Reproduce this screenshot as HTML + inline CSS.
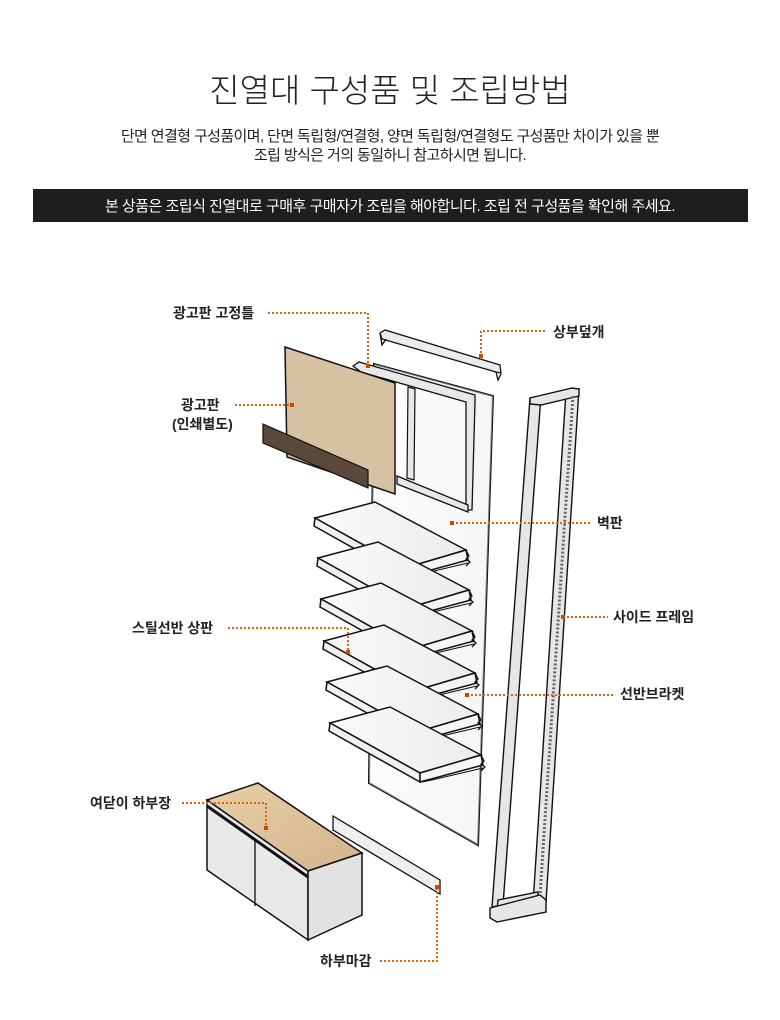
<!DOCTYPE html>
<html><head><meta charset="utf-8"><style>
html,body{margin:0;padding:0;background:#fff;}
body{width:780px;height:1020px;position:relative;overflow:hidden;font-family:"Liberation Sans","Noto Sans CJK KR",sans-serif;color:#222;}
.t{position:absolute;left:0;width:780px;text-align:center;white-space:nowrap;}
svg{position:absolute;left:0;top:0;}
</style></head><body>
<div class="t" style="top:64px;font-size:33px;font-weight:300;color:#222;">진열대 구성품 및 조립방법</div>
<div class="t" style="top:127px;font-size:15px;line-height:19px;color:#222;letter-spacing:-0.6px;">단면 연결형 구성품이며, 단면 독립형/연결형, 양면 독립형/연결형도 구성품만 차이가 있을 뿐<br>조립 방식은 거의 동일하니 참고하시면 됩니다.</div>
<div style="position:absolute;left:33px;top:189px;width:715px;height:33px;background:#1e1e1e;"></div>
<div class="t" style="top:195px;font-size:15px;color:#fff;letter-spacing:-0.5px;">본 상품은 조립식 진열대로 구매후 구매자가 조립을 해야합니다. 조립 전 구성품을 확인해 주세요.</div>

<svg width="780" height="1020" viewBox="0 0 780 1020">
<defs>
<linearGradient id="sh" x1="0" y1="0" x2="1" y2="0"><stop offset="0" stop-color="#fafafa"/><stop offset="1" stop-color="#ececec"/></linearGradient>
<linearGradient id="wd" x1="0" y1="0" x2="1" y2="1"><stop offset="0" stop-color="#e8cfa6"/><stop offset="1" stop-color="#d2b48c"/></linearGradient>
<g id="shelf">
<polygon points="315,518 375,502 466,550 405,568" fill="url(#sh)" stroke="#111" stroke-width="1.5"/>
<polygon points="315,518 405,568 405,577 314,526" fill="#f0f0f0" stroke="#111" stroke-width="1.5"/>
<polygon points="405,568 466,550 468,560 405,577" fill="#f5f5f5" stroke="#111" stroke-width="1.5"/>
<path d="M466,550 l3,6 -3,3 4,3 -4,4" fill="none" stroke="#111" stroke-width="1.3"/>
<path d="M407,577 l10,-2 51,-12" fill="none" stroke="#111" stroke-width="1"/>
</g>
</defs>
<!-- wall panel -->
<polygon points="374,364 493,396 478,845 369,783" fill="#fff" stroke="#111" stroke-width="2"/>
<polygon points="374,364 493,396 478,845 369,783" fill="url(#sh)" opacity="0.5"/>
<!-- frame -->
<polygon points="353,366 359,362 475,395 475,402 472,510 466,510 466,402 361,372" fill="#e8e8e8" stroke="#111" stroke-width="1.3"/>
<polygon points="397,476 468,505 468,512 397,484" fill="#e8e8e8" stroke="#111" stroke-width="1.3"/>
<polygon points="408,387 415,389 414,480 407,478" fill="#e8e8e8" stroke="#111" stroke-width="1.2"/>
<!-- ad board -->
<polygon points="285,347 395,383 395,494 287,457" fill="#d6c1a2" stroke="#111" stroke-width="1.5"/>
<polygon points="263,424 368,470 368,488 263,443" fill="#5c4838" stroke="#111" stroke-width="1.2"/>
<!-- top cap -->
<polygon points="380,333 385,330 500,365 501,373 496,372 382,339" fill="#ececec" stroke="#111" stroke-width="1.3"/>
<path d="M380,333 l2,12 4,-6 M496,372 l2,8 3,-6" fill="none" stroke="#111" stroke-width="1.3"/>
<!-- shelves -->
<use href="#shelf"/>
<use href="#shelf" transform="translate(3,40)"/>
<use href="#shelf" transform="translate(6,81)"/>
<use href="#shelf" transform="translate(9,123)"/>
<use href="#shelf" transform="translate(12,164)"/>
<use href="#shelf" transform="translate(15,205)"/>
<!-- side frame -->
<g stroke="#111" stroke-width="1.4" fill="#e6e6e6">
<polygon points="530,398 541,396 503,905 492,907"/>
<polygon points="566,391 579,389 546,902 533,904"/>
<polygon points="530,398 572,388 579,389 579,396 541,405 530,404"/>
<polygon points="498,900 538,892 538,902 497,912"/>
<polygon points="490,908 540,895 546,900 546,912 497,922 490,918"/>
</g>
<line x1="573" y1="396" x2="540" y2="895" stroke="#666" stroke-width="3" stroke-dasharray="2,2"/>
<!-- cabinet -->
<polygon points="207,800 258,783 362,853 308,871" fill="url(#wd)" stroke="#111" stroke-width="1.5"/>
<polygon points="207,800 308,871 308,940 207,870" fill="#e8e8e8" stroke="#111" stroke-width="1.5"/>
<polygon points="308,871 362,853 362,915 308,940" fill="#e2e2e2" stroke="#111" stroke-width="1.5"/>
<line x1="207" y1="806" x2="308" y2="877" stroke="#111" stroke-width="3"/>
<line x1="255" y1="840" x2="255" y2="906" stroke="#111" stroke-width="1.3"/>
<!-- bottom trim -->
<polygon points="333,816 440,880 440,894 333,830" fill="#efefef" stroke="#111" stroke-width="1.3"/>
<!-- leaders -->
<g fill="none" stroke="#e0620e" stroke-width="2" stroke-dasharray="2,2">
<path d="M268,313 H368 V365"/>
<path d="M545,331 H481 V356"/>
<path d="M235,405 H292"/>
<path d="M452,523 H592"/>
<path d="M563,617 H608"/>
<path d="M467,695 H615"/>
<path d="M228,628 H348 V652"/>
<path d="M182,803 H266 V828"/>
<path d="M380,961 H437 V887"/>
</g>
<g fill="#c84a00">
<rect x="366" y="364" width="4" height="4"/><rect x="479" y="354" width="4" height="4"/>
<rect x="290" y="403" width="4" height="4"/><rect x="450" y="521" width="4" height="4"/>
<rect x="561" y="615" width="4" height="4"/><rect x="465" y="693" width="4" height="4"/>
<rect x="346" y="650" width="4" height="4"/><rect x="264" y="826" width="4" height="4"/>
<rect x="435" y="885" width="4" height="4"/>
</g>
<g font-family="Liberation Sans, Noto Sans CJK KR, sans-serif" font-size="14" font-weight="bold" fill="#222">
<text x="173" y="318">광고판 고정틀</text>
<text x="553" y="337">상부덮개</text>
<text x="181" y="410">광고판</text>
<text x="172" y="429">(인쇄별도)</text>
<text x="597" y="528">벽판</text>
<text x="613" y="622">사이드 프레임</text>
<text x="620" y="699">선반브라켓</text>
<text x="132" y="633">스틸선반 상판</text>
<text x="90" y="808">여닫이 하부장</text>
<text x="320" y="966">하부마감</text>
</g>
</svg>
</body></html>
